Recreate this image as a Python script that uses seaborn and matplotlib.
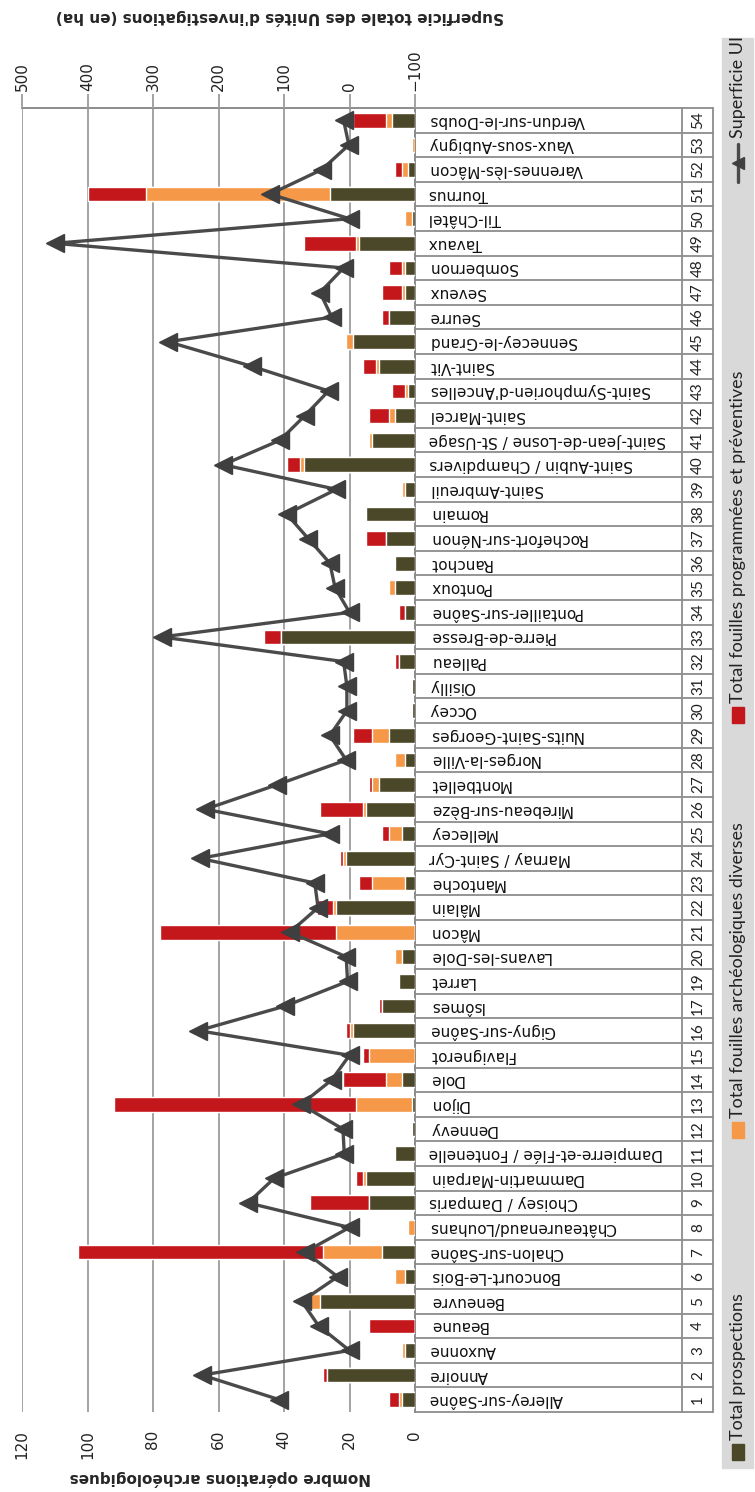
import numpy as np
import pandas as pd
import matplotlib.pyplot as plt
import seaborn as sns
from matplotlib.patches import Rectangle
from matplotlib.lines import Line2D

# Communes (bottom to top in the picture) and their row numbers
communes = ["Allerey-sur-Saône", "Annoire", "Auxonne", "Beaune", "Beneuvre",
            "Boncourt-Le-Bois", "Chalon-sur-Saône", "Châteaurenaud/Louhans",
            "Choisey / Damparis", "Dammartin-Marpain", "Dampierre-et-Flée / Fontenelle",
            "Dennevy", "Dijon", "Dole", "Flavignerot", "Gigny-sur-Saône", "Isômes",
            "Larret", "Lavans-les-Dole", "Mâcon", "Mâlain", "Mantoche",
            "Marnay / Saint-Cyr", "Mellecey", "Mirebeau-sur-Bèze", "Montbellet",
            "Norges-la-Ville", "Nuits-Saint-Georges", "Occey", "Oisilly", "Palleau",
            "Pierre-de-Bresse", "Pontailler-sur-Saône", "Pontoux", "Ranchot",
            "Rochefort-sur-Nénon", "Romain", "Saint-Ambreuil", "Saint-Aubin / Champdivers",
            "Saint-Jean-de-Losne / St-Usage", "Saint-Marcel", "Saint-Symphorien-d'Ancelles",
            "Saint-Vit", "Sennecey-le-Grand", "Seurre", "Seveux", "Sombernon", "Tavaux",
            "Til-Châtel", "Tournus", "Varennes-lès-Mâcon", "Vaux-sous-Aubigny",
            "Verdun-sur-le-Doubs"]
numeros = list(range(1, 18)) + list(range(19, 55))

# Number of operations
prospections = [4, 27, 3, 0, 29, 3, 10, 0, 14, 15, 6, 1, 1, 4, 0, 19, 10,
                5, 4, 0, 24, 3, 21, 4, 15, 11, 3, 8, 1, 1, 5, 41, 3, 6, 6,
                9, 15, 3, 34, 13, 6, 2, 11, 19, 8, 3, 3, 17, 1, 26, 2, 0, 7]
fouilles_diverses = [1, 0, 1, 0, 4, 3, 18, 2, 0, 1, 0, 0, 17, 5, 14, 1, 0,
                     0, 2, 24, 1, 10, 1, 4, 1, 2, 3, 5, 0, 0, 0, 0, 0, 2, 0,
                     0, 0, 1, 1, 1, 2, 1, 1, 2, 0, 1, 1, 1, 2, 56, 2, 1, 2]
fouilles_prog = [3, 1, 0, 14, 0, 0, 75, 0, 18, 2, 0, 0, 74, 13, 2, 1, 1,
                 0, 0, 54, 5, 4, 1, 2, 13, 1, 0, 6, 0, 0, 1, 5, 2, 0, 0,
                 6, 0, 0, 4, 0, 6, 4, 4, 0, 2, 6, 4, 16, 0, 18, 2, 0, 10]
# Superficie UI (ha)
superficie = [107, 225, 0, 47, 73, 18, 68, 0, 155, 115, 8, 10, 74, 27, 0, 231, 98,
              3, 5, 91, 48, 53, 228, 30, 220, 110, 5, 30, 4, 4, 9, 287, 0, 22, 30,
              63, 96, 20, 193, 106, 68, 32, 149, 277, 27, 45, 9, 450, 0, 121, 42, 1, 9]

W, H = 755, 1492
c_olive = '#4b4829'
c_orange = '#f59847'
c_red = '#c3171b'
c_grid = '#a3a3a3'
c_line = '#4a4a4a'

df = pd.DataFrame({'commune': communes, 'p': prospections,
                   'd': fouilles_diverses, 'f': fouilles_prog})
df['pd'] = df['p'] + df['d']
df['tot'] = df['pd'] + df['f']
n = len(df)

sns.set_style('white')
plt.rcParams['font.family'] = ['DejaVu Sans']

fig = plt.figure(figsize=(W / 100, H / 100), dpi=100)
x0, x1, ytop, ybot = 22, 415, 108, 1412
ax = fig.add_axes([x0 / W, 1 - ybot / H, (x1 - x0) / W, (ybot - ytop) / H])

# stacked bars drawn as overlapping cumulative totals
for col, c in [('tot', c_red), ('pd', c_orange), ('p', c_olive)]:
    sns.barplot(data=df, x=col, y='commune', order=communes, orient='h', color=c,
                saturation=1, width=0.6, errorbar=None, ax=ax, zorder=3)

ax.set_ylim(-0.5, n - 0.5)
ax.set_xlim(120, 0)
ax.set_xticks(range(0, 121, 20))
ax.grid(axis='x', color=c_grid, lw=1.4, zorder=0)
ax.set_axisbelow(True)
ax.set_yticks([])
ax.set_xlabel('')
ax.set_ylabel('')
ax.tick_params(axis='x', length=0, pad=13, labelsize=11, labelrotation=90,
               labelcolor='#222222')
for s in ['left', 'bottom']:
    ax.spines[s].set_visible(False)
for s in ['top', 'right']:
    ax.spines[s].set_color('#8c8c8c')
    ax.spines[s].set_linewidth(1.4)

# area on the secondary axis
ax2 = ax.twiny()
ax2.set_xlim(500, -100)
ax2.plot(superficie, np.arange(n), color=c_line, lw=2.4, marker='<', ms=13,
         mfc='#3f3f3f', mec='#3f3f3f', zorder=5)
ax2.set_xticks(range(-100, 501, 100))
ax2.tick_params(axis='x', direction='out', length=10, width=1.4, color=c_grid,
                pad=2, labelsize=11, labelrotation=90, labelcolor='#222222')
ax2.grid(False)
for s in ax2.spines.values():
    s.set_visible(False)
ax2.set_ylim(-0.5, n - 0.5)

# data table on the right of the bars
tr = ax.get_yaxis_transform()


def axx(px):
    return (px - x0) / (x1 - x0)


for b in np.arange(-0.5, n, 1):
    ax.plot([1, axx(713)], [b, b], transform=tr, clip_on=False, color='#8c8c8c', lw=1.3)
for px in [682, 713]:
    ax.plot([axx(px)] * 2, [-0.5, n - 0.5], transform=tr, clip_on=False,
            color='#8c8c8c', lw=1.3)
for i, (name, num) in enumerate(zip(communes, numeros)):
    ax.text(axx(429), i, name, transform=tr, rotation=180, ha='left', va='center',
            fontsize=11, color='#111111')
    ax.text(axx(698), i, str(num), transform=tr, rotation=90, ha='center', va='center',
            fontsize=11, family='Lato', color='#222222')

# axis titles (upside down, like the source)
fig.text(280 / W, 1 - 17 / H, "Superficie totale des Unités d'investigations (en ha)",
         rotation=180, ha='center', va='center', fontsize=11, fontweight='bold')
fig.text(220 / W, 1 - 1478 / H, "Nombre opérations archéologiques",
         rotation=180, ha='center', va='center', fontsize=11, fontweight='bold')

# legend band
fig.add_artist(Rectangle((722 / W, 1 - 1468 / H), 31 / W, (1468 - 38) / H,
                         transform=fig.transFigure, color='#d9d9d9', zorder=0))
lx = 738
items = [(c_olive, 'Total prospections', 1452),
         (c_orange, 'Total fouilles archéologiques diverses', 1130),
         (c_red, 'Total fouilles programmées et préventives', 715)]
for c, lab, yc in items:
    fig.add_artist(Rectangle(((lx - 6) / W, 1 - (yc + 8) / H), 12 / W, 16 / H,
                             transform=fig.transFigure, color=c))
    fig.text(lx / W, 1 - (yc - 12) / H, lab, rotation=90, ha='center', va='bottom',
             fontsize=13, family='Lato', color='#222222')
fig.add_artist(Line2D([lx / W] * 2, [1 - 182 / H, 1 - 144 / H], transform=fig.transFigure,
                      color=c_line, lw=2.4))
fig.add_artist(Line2D([lx / W], [1 - 163 / H], transform=fig.transFigure,
                      color='#3f3f3f', marker='<', ms=9, ls='none'))
fig.text(lx / W, 1 - 138 / H, 'Superficie UI', rotation=90, ha='center', va='bottom',
         fontsize=13, family='Lato', color='#222222')

fig.savefig('out.png', dpi=100)
